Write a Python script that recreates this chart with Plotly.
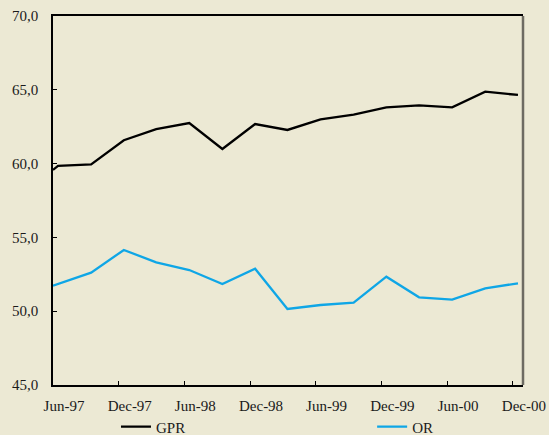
import plotly.graph_objects as go

# Data
gpr_dates = ["1997-06-01", "1997-06-15", "1997-09-15", "1997-12-15", "1998-03-15",
             "1998-06-15", "1998-09-15", "1998-12-15", "1999-03-15", "1999-06-15",
             "1999-09-15", "1999-12-15", "2000-03-15", "2000-06-15", "2000-09-15",
             "2000-12-15"]
gpr_values = [59.57, 59.84, 59.95, 61.58, 62.34, 62.75, 60.99, 62.68, 62.28, 63.0,
              63.31, 63.81, 63.95, 63.81, 64.87, 64.65]

or_dates = ["1997-06-01", "1997-09-15", "1997-12-15", "1998-03-15", "1998-06-15",
            "1998-09-15", "1998-12-15", "1999-03-15", "1999-06-15", "1999-09-15",
            "1999-12-15", "2000-03-15", "2000-06-15", "2000-09-15", "2000-12-15"]
or_values = [51.73, 52.61, 54.15, 53.31, 52.79, 51.84, 52.88, 50.15, 50.42, 50.58,
             52.34, 50.94, 50.78, 51.55, 51.89]

y_ticks = [45, 50, 55, 60, 65, 70]

BG = "#ECE9D4"
FONT = "'Liberation Serif', 'Times New Roman', 'DejaVu Serif', serif"

fig = go.Figure()
fig.add_trace(go.Scatter(x=gpr_dates, y=gpr_values, name="GPR", mode="lines",
                         line=dict(color="#000000", width=2.3), legend="legend"))
fig.add_trace(go.Scatter(x=or_dates, y=or_values, name="OR", mode="lines",
                         line=dict(color="#0FA6E6", width=2.3), legend="legend2"))

leg_common = dict(orientation="h", y=-0.069, yanchor="top", xanchor="left",
                  bgcolor="rgba(0,0,0,0)", font=dict(family=FONT, size=15, color="#1a1a1a"),
                  itemwidth=30)

fig.update_layout(
    width=549, height=435,
    margin=dict(l=53, r=26, t=16, b=50, autoexpand=False),
    paper_bgcolor=BG, plot_bgcolor=BG,
    separators=",.",
    font=dict(family=FONT, size=15, color="#1a1a1a"),
    showlegend=True,
    legend=dict(x=0.134, **leg_common),
    legend2=dict(x=0.679, **leg_common),
    xaxis=dict(type="date", range=["1997-06-01", "2000-12-29"],
               tick0="1997-06-01", dtick="M6", tickformat="%b-%y",
               ticks="inside", ticklen=4, tickcolor="#000", tickwidth=1,
               showgrid=False, zeroline=False, automargin=False,
               showline=True, linecolor="#000", linewidth=1.5, mirror=True,
               ticklabelshift=11, ticklabelstandoff=6),
    yaxis=dict(range=[45, 70], tickvals=y_ticks, tickformat=".1f",
               ticks="inside", ticklen=4, tickcolor="#000", tickwidth=1,
               showgrid=False, zeroline=False, automargin=False,
               showline=True, linecolor="#000", linewidth=1.5,
               ticklabelstandoff=10),
    shapes=[dict(type="line", xref="paper", yref="paper", x0=1, x1=1, y0=0, y1=1,
                 line=dict(color="#6E6B62", width=2.5))],
)

fig.write_html(
    "out.html",
    config={"displayModeBar": False},
    post_script=(
        "document.body.style.margin='0';"
        "document.body.style.padding='0';"
        "document.body.style.background='" + BG + "';"
        "document.documentElement.style.overflow='hidden';"
    ),
)
